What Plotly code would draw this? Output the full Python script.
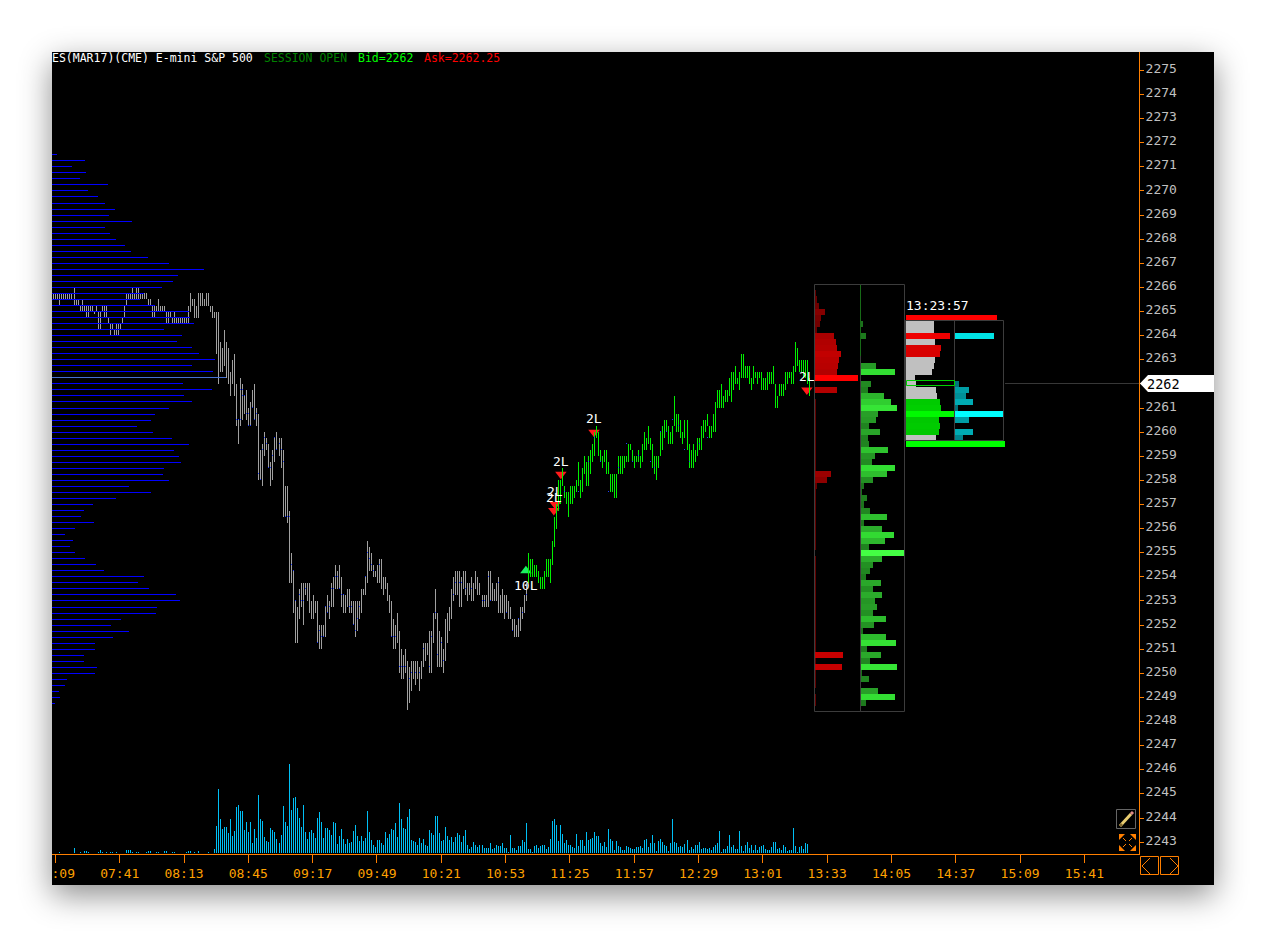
import plotly.graph_objects as go

W, H = 1266, 937

# ---------- data ----------
first_bar_minute = 428.2547
bar_high = [
2265.75,2265.75,2265.75,2265.75,2265.75,2265.75,2265.75,2265.75,2265.75,2265.75,2266,2265.5,2265.5,2265.25,2265.5,2265.25,2265.25,2265.25,2265.25,2265.25,
2265,2265.25,2265,2265,2265.25,2265.25,2265.25,2264.75,2264.5,2264.5,2264.25,2264.5,2264.5,2264.5,2264.75,2265.25,2265.75,2265.75,2265.75,2266,
2265.75,2266,2266,2265.75,2265.75,2265.75,2265.75,2265.5,2265.5,2265.25,2265.25,2265.25,2265.5,2265.25,2265.25,2265.25,2265,2265,2265,2264.75,
2265,2264.75,2264.75,2264.75,2264.75,2264.75,2264.75,2265.25,2265.75,2265.5,2265.5,2265.25,2265.75,2265.75,2265.75,2265.5,2265.75,2265.75,2265.25,2265.25,2265,
2265,2265,2263.75,2263.5,2264.25,2263.75,2263.5,2262.5,2263,2263.25,2262,2260.5,2262.25,2262,2261.5,2261.75,2261,2261.25,2261.75,2262,
2261,2260.75,2259.25,2259.5,2260,2259.75,2259.5,2258.75,2259.25,2259.75,2260,2259.75,2259.75,2259.25,2257.75,2257.75,2256.75,2255,2254.25,2253,
2252.75,2253.5,2253.75,2253.75,2253.75,2253.75,2253.75,
2253,2253.25,2253,2253,2252,2252,2252,2252.75,2253.25,2253,2253.75,2254,2254.5,2254.25,2254.5,2254,2253.25,2253.25,2253.5,2253.5,
2253,2253,2253,2253,2253,2253.5,2253.5,2254,2255.5,2255.25,2255,2254.5,2254.25,2254.5,2254.75,2254.75,2254,2254,2253.75,2253.25,
2253,2252.25,2252,2252.5,2251.75,2251,2250.75,2251,2250.5,2250.25,2250.5,2250.5,2250.5,2250.5,2250.25,2250.5,2251.25,2251.25,2251.25,2251.75,
2251.75,2252.5,2253.5,2252.5,2251.75,2251.5,2251,2252.25,2252.5,2252.75,2253.5,2254,2254.25,2254.25,2254.25,2254,2254.25,2254.25,2253.75,2253.75,
2254,2253.75,2254.25,2254,2253.75,2253.25,2253.25,2253.25,2254.25,2254.25,2253.75,2253.5,2253.75,2254,2253.25,2253.5,2253.25,2253.25,2253,2252.75,
2252.25,2252.25,2252,2252.25,2252.75,2252.75,2253.25,2253.75,2255,
2254.75,2254.75,2254.5,2254.5,2254.25,2254,2254,2254.25,2254.75,2254.75,2254.75,2255.5,2256.5,2257,
2258,2258,2258.5,2257.75,2257.5,2257.5,2257.75,2257.75,2257.75,2258,2258.75,2258,2258.5,2259,2258.75,2259,2259.25,2259.5,2260,2260.25,
2260,2259.25,2259,2259.25,2259.25,2258.75,2258.25,2258.25,2258.25,2258.25,2259,2259,2259,2259,2259,2259.5,2259.5,2259.25,2259,2259,
2259.25,2259,2259.5,2260,2259.75,2260.25,2259.75,2259.5,2259,2259,2259,2260,2260.25,2260.5,2260.5,2260.25,2260,2260.25,2261.5,2260.75,
2260.75,2260.5,2260,2260.5,2260.5,
2259.5,2259.25,2259.5,2259.25,2259.75,2259.75,2260.25,2260.5,2260.5,2260.75,2260.25,2260.25,2260.75,2261.25,2261.75,2261.75,2262,2261.5,2261.75,2261.75,
2262.25,2262.5,2262.5,2262.75,2262.25,2262.5,2263.25,2263.25,2262.75,2262.75,2262.75,2262.25,2262.75,2262.5,2262.5,2262.5,2262.5,2262.25,2262.25,2262.5,
2262.5,2262.5,2262.75,2262,2261.5,2262,2262,2262,2262.5,2262.5,2262.5,2262.5,2262.75,2263.75,2263.5,2263,2263,2263,2263,2263,2262.25,
]
bar_low = [
2265.5,2265.5,2265.5,2265.25,2265.5,2265.5,2265.5,2265.5,2265.5,2265.5,2265.25,2265.25,2265.25,2265,2265,2265,2264.75,2264.75,2265,2265,
2264.9,2265,2264.25,2264.25,2265,2264.75,2264.75,2264.5,2264,2264.25,2264,2264,2264,2264.25,2264.5,2264.75,2265.25,2265.5,2265.5,2265.5,
2265.5,2265.5,2265.5,2265.5,2265.5,2265.5,2265.5,2265.25,2265.25,2264.75,2264.75,2265,2265,2265,2265,2265,2264.5,2264.5,2264.75,2264.5,
2264.5,2264.5,2264.5,2264.5,2264.5,2264.5,2264.5,2264.5,2265,2265.25,2264.75,2264.75,2264.75,2265.25,2265.25,2265.25,2265.25,2265.25,2265,2264.75,2264.75,
2263.25,2262,2262.5,2262.5,2262.75,2262.25,2262,2261.5,2262,2261.5,2260.25,2259.5,2260.25,2260.5,2260.75,2260.5,2260.25,2260.25,2261,2260.5,
2260.25,2258,2258,2257.75,2259,2259.25,2258.5,2257.75,2258,2258.75,2259.25,2259,2258.5,2256.5,2256.5,2256.25,2253.75,2253.75,2252.5,2251.25,
2251.25,2252.25,2252.75,2252,2253.25,2253,2252.5,
2252.25,2252.25,2252.5,2251.25,2251,2251,2251.5,2251.5,2252.5,2252.25,2252.75,2252.75,2253.5,2253.5,2253.5,2252.75,2252.5,2252.5,2252.75,2252.5,
2252.5,2252,2251.5,2251.75,2252.25,2252.5,2253.25,2253.25,2253.75,2254.25,2254.25,2254,2254,2253.75,2253.75,2253.5,2253.25,2253.5,2253,2252.5,
2251.5,2251,2251,2251.25,2250,2249.75,2249.75,2250,2248.5,2248.75,2249.25,2249.75,2249.5,2249.75,2249.25,2249.75,2250.25,2250.5,2250.75,2250,
2250,2251.25,2252.25,2250.25,2250.25,2250.25,2250,2250.5,2251.25,2251.75,2252.25,2253,2253.25,2253.25,2252.75,2252.75,2253.5,2253.25,2253,2253.25,
2253,2253,2253.5,2253.25,2253.25,2252.75,2252.75,2252.75,2252.75,2253,2253,2253,2253,2252.5,2252.5,2252.5,2252.25,2252.5,2252.25,2252.25,
2251.75,2251.5,2251.5,2251.5,2251.75,2252.25,2252.5,2253,2253.75,
2254,2254,2254,2254,2253.75,2253.5,2253.5,2253.5,2254,2254,2253.75,2254.5,2255.25,2256,
2256.75,2257,2257.75,2257.25,2257,2256.5,2257,2257,2257.25,2257.5,2257.75,2257.25,2257.5,2258.25,2257.75,2257.75,2258.25,2258.75,2259,2259.75,
2259,2258.75,2258.5,2258.75,2258.25,2258.25,2257.5,2257.5,2257.25,2257.25,2258.25,2258.25,2258.25,2258.5,2258.75,2258.75,2259.25,2258.75,2258.5,2258.75,
2258.75,2258.5,2258.75,2259.25,2259.25,2259.5,2259.25,2258.5,2258.25,2258,2258.5,2259,2259.25,2259.75,2260,2259.5,2259.5,2259.5,2260.25,2260,
2260,2259.75,2259.5,2259.75,2259.25,
2258.5,2258.5,2258.5,2258.75,2259,2259.25,2259.25,2259.75,2260,2260.25,2259.75,2259.75,2260,2260,2261,2261,2261,2261,2261.25,2261.25,
2261.5,2261.25,2261.75,2262,2262,2261.75,2262.25,2262.25,2262.25,2262.25,2262,2261.75,2262,2262.25,2262,2262.25,2261.75,2261.75,2261.75,2261.75,
2262,2262,2262,2261,2261,2261.5,2261.5,2261.5,2261.75,2262,2262.25,2262,2262,2262.5,2262.75,2262.5,2262.5,2262.25,2262.25,2262,2261.5,
]
first_green_bar = 236

# closes that can be made out on the bars (bar number, price)
close_bar = [91,92,93,93,94,94,95,96,97,97,98,99,100,101,102,103,104,105,106,107,108,109,110,111,112,113,114,115,116,117,118,119,120,122,123,124,125,
131,132,133,134,135,136,137,138,139,140,141,142,143,144,147,148,149,150,151,152,155,156,157,158,159,162,168,169,170,172,173,174,175,177,178,180,182,184,187,188,190,191,193,194,199,200,202,203,205,208,213,214,216,217,221,225,228,231,233,235,
250,254,257,261,266,269,272,276,279,281,285,288,291,297,299,302,305,308,311,314,316,321,325]
close_price = [2260.5,2260.5,2260.5,2261.75,2261.75,2261.5,2261.5,2260.75,2260.75,2260.25,2260.25,2261,2260.5,2260.75,2258.25,2258,2259.25,2259.75,2259.5,2258.5,2258.5,2259,2259.75,2259.25,2259.5,2259.25,2258.75,2256.5,2256.5,2256.5,2254.5,2254.25,2253,2253.25,2253,2253,2253.5,
2251.25,2251.75,2251.5,2251.5,2252.75,2252.5,2252.75,2253.5,2253.5,2254,2254,2253.5,2253.25,2253.25,2252.75,2252.75,2252,2251.75,2252.25,2252.75,2254,2255,2254.75,2254.5,2254.25,2254.5,2251.5,2251.5,2251.5,2250.25,2250.25,2250.25,2250.25,2249.75,2250,2250,2250,2251,2250.25,2251.5,2252.5,2250.75,2251.25,2250.5,2253.25,2253.75,2253.75,2253.75,2253.5,2253.5,2253,2253,2254,2253,2253.75,2252.5,2251.75,2252.25,2252.5,2253.25,
2257,2257.5,2257.25,2257.5,2258.75,2259.75,2258.75,2257.5,2257.25,2258.5,2259.5,2258.75,2259,2258.75,2258.5,2260,2260,2260.5,2260.25,2259.25,2258.75,2259.5,2259.75]

volume = [
0,0,0,1,0,0,0,0,0,0,5,0,0,1,0,2,2,1,0,0,0,0,1,3,1,0,1,0,1,1,0,1,0,0,0,0,3,3,3,1,0,1,1,0,0,0,1,2,2,0,0,1,1,0,0,2,2,0,0,1,1,0,0,0,0,0,1,2,2,0,1,0,2,0,0,0,0,1,0,0,4,
27,64,34,24,26,26,20,34,17,22,46,48,42,42,23,31,21,31,10,24,15,58,34,32,16,12,11,25,23,21,14,
10,18,47,31,27,89,43,55,56,45,35,26,48,21,14,21,23,20,15,35,41,31,15,25,25,23,18,31,30,9,17,24,14,9,14,10,11,22,28,17,12,17,12,15,42,21,13,8,6,13,13,10,8,21,15,19,24,23,30,16,50,34,25,24,36,44,13,12,11,8,15,10,14,8,7,23,20,18,37,37,20,12,13,26,17,13,
16,11,16,20,18,11,17,23,8,4,6,11,8,6,8,
8,5,5,5,10,4,5,8,7,7,10,5,5,1,18,5,5,3,7,7,13,11,30,4,4,1,7,8,5,7,8,8,4,6,14,32,34,28,12,28,19,10,13,8,8,6,5,19,7,13,13,7,21,13,14,15,21,17,17,10,7,11,6,24,14,12,3,12,7,6,3,3,7,6,5,4,4,6,6,7,5,13,14,6,10,18,10,2,12,14,11,8,7,2,10,34,11,10,6,7,6,9,
13,3,6,4,8,8,11,4,5,5,4,5,3,6,8,10,22,1,4,4,7,18,6,8,4,4,22,7,2,8,11,5,8,3,8,3,6,7,8,4,3,3,6,11,11,4,5,3,8,6,2,3,3,25,7,1,6,7,4,10,9,
]

# left session profile, one row per 0.25 point, from 2271.5 downwards
profile_top_price = 2271.5
profile_sizes = [
5,33,20,34,28,56,36,46,53,63,57,80,53,58,64,73,79,96,117,152,126,121,110,92,88,103,137,138,142,112,130,125,
140,147,163,140,161,174,131,160,132,140,
117,103,99,85,101,120,137,122,127,129,112,111,117,77,99,64,41,32,29,42,23,13,21,18,23,33,44,52,92,86,97,124,128,
105,104,69,59,77,61,43,43,32,32,45,43,15,13,7,8,3,
]
profile_poc_index = 37

# red column
red_price = [2265.5,2265.25,2265,2264.75,2264.5,2264.25,2264,2263.75,2263.5,2263.25,2263,2262.75,2262.5,2262.25,2261.75,2258.25,2258,2257.75,2250.75,2250.25]
red_size = [2,4,10,6,5,2,19,21,22,26,24,23,22,43,22,16,12,2,28,27]
red_thin_price = [2265.75,2261.25,2261,2260.75,2260.5,2260.25,2260,2259.75,2259.5,2259.25,2259,2258.75,2258.5,2257.5,2257.25,2257,2256.75,2256.5,2256.25,2256,2255.75,2255.5,2255.25,2254.75,2254.5,2254.25,2254,2253.75,2253.5,2253.25,2253,2252.75,2252.5,2252.25,2252,2251.75,2251.5,2251.25,2251,2250.5,2250,2249.75,2249.5,2249,2248.75]

# green column
green_price = [2264.5,2264,2262.75,2262.5,2262,2261.75,2261.5,2261.25,2261,2260.75,2260.5,2260.25,2260,2259.75,2259.5,2259.25,2259,2258.75,2258.5,2258.25,2258,2257.75,2257.5,2257.25,2257,2256.75,2256.5,2256.25,2256,2255.75,2255.5,2255.25,2255,2254.75,2254.5,2254.25,2254,2253.75,2253.5,2253.25,2253,2252.75,2252.5,2252.25,2252,2251.75,2251.5,2251.25,2251,2250.75,2250.5,2250.25,2250,2249.75,2249.25,2249,2248.75]
green_size = [2,5,15,34,10,7,23,30,36,17,15,8,19,7,8,27,14,11,34,26,12,3,1,6,3,9,26,3,21,33,24,8,43,21,12,9,5,20,12,21,14,16,12,25,13,2,25,35,6,20,9,36,1,8,17,34,5]

# depth ladder
ladder_gray_price = [2264.5,2264.25,2263.75,2263,2262.75,2262.5,2262.25,2262,2261.75,2261.5,2259.75]
ladder_gray_size = [28,28,29,29,28,26,9,10,30,31,30]
ladder_ask_price = [2264.75,2264,2263.5,2263.25]
ladder_ask_size = [91,44,35,34]
ladder_bid_price = [2261.25,2261,2260.75,2260.5,2260.25,2260,2259.5]
ladder_bid_size = [34,35,48,33,34,33,99]
ladder_delta_price = [2264,2262,2261.75,2261.5,2261.25,2261,2260.75,2260.5,2260,2259.75]
ladder_delta_size = [39,4,14,11,18,3,49,14,18,8]

# entry signals
signal_down_minute = [677.0, 677.7, 680.5, 697.0, 802.9]
signal_down_price = [2256.75, 2257.0, 2258.25, 2260.0, 2261.75]
signal_down_label_price = [2257.3, 2257.55, 2258.8, 2260.55, 2262.3]
signal_down_text = ["2L", "2L", "2L", "2L", "2L"]
signal_up_minute = [663.1]
signal_up_price = [2254.25]
signal_up_label_price = [2253.65]
signal_up_text = ["10L"]

time_minutes = [429 + 32 * k for k in range(17)]
time_labels = ["\u00a0\u00a0:09","07:41","08:13","08:45","09:17","09:49","10:21","10:53","11:25","11:57","12:29","13:01","13:33","14:05","14:37","15:09","15:41"]
price_ticks = list(range(2243, 2276))
last_price = 2262
clock_text = "13:23:57"

# ---------- styling / helpers ----------
MONO = "DejaVu Sans Mono"
ORANGE = "#ff7f00"
PANEL_L, PANEL_T, PANEL_R, PANEL_B = 52, 52, 1214, 885
AX_R, AX_B = 1139, 854

def py(y):
    return (H - y) / H
def px(x):
    return x / W

def pmap(y):
    return 2262 - (y - 383.9) / 24.1188

shapes = []
def rect(x0, y0, x1, y1, line=None, fill=None, width=1, layer="below"):
    shapes.append(dict(type="rect", xref="paper", yref="paper", x0=px(x0), x1=px(x1), y0=py(y1), y1=py(y0),
                       line=dict(color=line or "rgba(0,0,0,0)", width=width if line else 0),
                       fillcolor=fill or "rgba(0,0,0,0)", layer=layer))
def path(points, line=None, fill=None, width=1, layer="above", close=False):
    d = "M" + " L".join(f"{px(x):.5f},{py(y):.5f}" for x, y in points) + (" Z" if close else "")
    shapes.append(dict(type="path", xref="paper", yref="paper", path=d,
                       line=dict(color=line or "rgba(0,0,0,0)", width=width if line else 0),
                       fillcolor=fill or "rgba(0,0,0,0)", layer=layer))

# black panel
rect(PANEL_L, PANEL_T, PANEL_R, PANEL_B, fill="#000000")

# profile panels
rect(814.5, 284.5, 860.5, 711.5, line="#3c3c3c")
rect(860.5, 284.5, 904.5, 711.5, line="#3c3c3c")
rect(905.5, 320.5, 954.5, 440.5, line="#3c3c3c", layer="above")
rect(954.5, 320.5, 1003.5, 440.5, line="#3c3c3c", layer="above")
rect(906.5, 380.5, 954.5, 385.5, line="#00d000", layer="above")
path([(860.5, 285), (860.5, 356)], line="#176a17")
path([(1005, 383.5), (AX_R, 383.5)], line="#383838", layer="below")

# last-price flag
path([(1140, 383.5), (1148, 375), (1214, 375), (1214, 392), (1148, 392)], fill="#ffffff", close=True)
# prev / next buttons
rect(1140.5, 856.5, 1158.5, 874.5, line=ORANGE, layer="above")
rect(1160.5, 856.5, 1178.5, 874.5, line=ORANGE, layer="above")
path([(1150, 858), (1142, 866), (1150, 874)], line=ORANGE)
path([(1170, 858), (1178, 866), (1170, 874)], line=ORANGE)
# pencil tool
rect(1116.5, 809.5, 1135.5, 828.5, line="#666666", layer="above")
path([(1120, 826), (1131, 814)], line="#e8cc70", width=3)
path([(1120, 826), (1122, 824)], line="#806830", width=3)
path([(1131, 814), (1133, 812)], line="#e08a8a", width=3)
# expand tool
for cx, cy, sx, sy in [(1119, 834, 1, 1), (1136, 834, -1, 1), (1119, 851, 1, -1), (1136, 851, -1, -1)]:
    path([(cx, cy), (cx + 6 * sx, cy), (cx, cy + 6 * sy)], fill=ORANGE, close=True)
    path([(cx + 4 * sx, cy + 4 * sy), (cx + 7 * sx, cy + 7 * sy)], line=ORANGE)

fig = go.Figure()

def minute(i):
    return first_bar_minute + i

def segs(xs, y0s, y1s):
    X, Y = [], []
    for x, a, b in zip(xs, y0s, y1s):
        X += [x, x, None]
        Y += [a, b, None]
    return X, Y

def hsegs(ys, x0s, x1s):
    X, Y = [], []
    for y, a, b in zip(ys, x0s, x1s):
        X += [a, b, None]
        Y += [y, y, None]
    return X, Y

def add_line(X, Y, color, xaxis="x", yaxis="y", width=1):
    fig.add_trace(go.Scatter(x=X, y=Y, mode="lines", line=dict(color=color, width=width), xaxis=xaxis, yaxis=yaxis,
                             hoverinfo="skip", showlegend=False, connectgaps=False))

# left profile
row_price = [profile_top_price - 0.25 * k for k in range(len(profile_sizes))]
rows = [k for k in range(len(profile_sizes)) if k != profile_poc_index]
X, Y = hsegs([row_price[k] for k in rows], [PANEL_L] * len(rows), [PANEL_L + profile_sizes[k] for k in rows])
add_line(X, Y, "#0000ff", xaxis="x2")
X, Y = hsegs([row_price[profile_poc_index]], [PANEL_L], [PANEL_L + profile_sizes[profile_poc_index]])
add_line(X, Y, "#4470d0", xaxis="x2")

# signal triangles under the bars
fig.add_trace(go.Scatter(x=signal_down_minute, y=signal_down_price, mode="markers",
                         marker=dict(symbol="triangle-down", size=10, color="#ff1a1a", line_width=0),
                         hoverinfo="skip", showlegend=False))
fig.add_trace(go.Scatter(x=signal_up_minute, y=signal_up_price, mode="markers",
                         marker=dict(symbol="triangle-up", size=10, color="#1cf060", line_width=0),
                         hoverinfo="skip", showlegend=False))

# price bars
n = min(len(bar_high), len(bar_low))
xs = [minute(i) for i in range(n)]
X, Y = segs(xs[:first_green_bar], bar_low[:first_green_bar], bar_high[:first_green_bar])
add_line(X, Y, "#a0a0a0")
X, Y = segs(xs[first_green_bar:], bar_low[first_green_bar:], bar_high[first_green_bar:])
add_line(X, Y, "#00f000")
# close ticks
X, Y = segs([minute(i) for i in close_bar], close_price, [c + 0.04 for c in close_price])
add_line(X, Y, "#2040ff")

# volume
X, Y = segs([minute(i) for i in range(len(volume)) if volume[i] > 0], [0] * sum(v > 0 for v in volume), [v for v in volume if v > 0])
add_line(X, Y, "#00bff5", yaxis="y2")

def hbars(prices, sizes, base, colorscale, cmin, cmax):
    fig.add_trace(go.Bar(y=prices, x=sizes, base=base, orientation="h", width=0.25, xaxis="x2", yaxis="y",
                         marker=dict(color=sizes, colorscale=colorscale, cmin=cmin, cmax=cmax, line_width=0),
                         hoverinfo="skip", showlegend=False))

RED = [[0, "#640000"], [0.5, "#b40000"], [1, "#ff0000"]]
GRN = [[0, "#1a6e1a"], [0.45, "#2aa82a"], [0.8, "#33e033"], [1, "#44ff44"]]
hbars(red_price, red_size, 815, RED, 1, 43)
hbars(red_thin_price, [1] * len(red_thin_price), 815, RED, 1, 43)
hbars(green_price, green_size, 861, GRN, 1, 43)
hbars(ladder_gray_price, ladder_gray_size, 906, [[0, "#c0c0c0"], [1, "#c0c0c0"]], 0, 99)
hbars(ladder_ask_price, ladder_ask_size, 905.5, [[0, "#d80000"], [0.3, "#ff0000"], [1, "#ff0000"]], 34, 91)
hbars(ladder_bid_price, ladder_bid_size, 905.5, [[0, "#00c800"], [0.25, "#00ff00"], [1, "#00ff00"]], 33, 99)
hbars(ladder_delta_price, ladder_delta_size, 955, [[0, "#007078"], [0.3, "#00a8b0"], [1, "#00ffff"]], 3, 49)

ann = []
def label(xpix, ypix, text, color, anchor="left", size=12):
    ann.append(dict(xref="paper", yref="paper", x=px(xpix), y=py(ypix), text=text, showarrow=False,
                    xanchor=anchor, yanchor="middle", font=dict(family=MONO, size=size, color=color),
                    borderpad=0, borderwidth=0))

label(51.5, 58, "ES(MAR17)(CME) E-mini S&P 500", "#ffffff", size=11.5)
label(264, 58, "SESSION OPEN", "#008000", size=11.5)
label(358, 58, "Bid=2262", "#00ff00", size=11.5)
label(424, 58, "Ask=2262.25", "#ff0000", size=11.5)
label(906, 305, clock_text, "#ffffff", size=13)
label(1147, 384, str(last_price), "#000000", size=13.5)
for m, p, t in zip(signal_down_minute + signal_up_minute,
                   signal_down_label_price + signal_up_label_price,
                   signal_down_text + signal_up_text):
    ann.append(dict(x=m, y=p, xref="x", yref="y", text=t, showarrow=False, xanchor="center", yanchor="middle",
                    font=dict(family=MONO, size=13, color="#ffffff")))

fig.update_layout(
    width=W, height=H, autosize=False, margin=dict(l=0, r=0, t=0, b=0, pad=0, autoexpand=False),
    paper_bgcolor="rgba(0,0,0,0)", plot_bgcolor="rgba(0,0,0,0)", barmode="overlay", bargap=0,
    showlegend=False, hovermode=False, shapes=shapes, annotations=ann,
    font=dict(family=MONO, size=13),
    xaxis=dict(domain=[px(PANEL_L), px(AX_R)], range=[427.308, 968.15], anchor="y", side="bottom", automargin=False,
               tickmode="array", tickvals=time_minutes, ticktext=time_labels, ticks="outside", ticklen=8, tickwidth=1,
               tickcolor=ORANGE, showline=True, linecolor=ORANGE, linewidth=1, showgrid=False, zeroline=False,
               ticklabelstandoff=-1,
               tickangle=0, tickfont=dict(family=MONO, size=13, color="#ffa000")),
    xaxis2=dict(domain=[px(PANEL_L), px(AX_R)], range=[PANEL_L, AX_R], overlaying="x", anchor="y", visible=False, automargin=False),
    yaxis=dict(domain=[py(AX_B), py(PANEL_T)], range=[pmap(AX_B), pmap(PANEL_T)], anchor="x", side="right", automargin=False,
               tickmode="array", tickvals=price_ticks, ticktext=["" if v == last_price else str(v) for v in price_ticks],
               ticks="outside", ticklen=4, tickwidth=1, tickcolor=ORANGE, showline=True, linecolor=ORANGE, linewidth=1,
               ticklabelstandoff=-1, ticklabelshift=-2,
               showgrid=False, zeroline=False, tickfont=dict(family=MONO, size=13, color="#c0c0c0")),
    yaxis2=dict(domain=[py(AX_B), py(PANEL_T)], range=[-1, AX_B - PANEL_T - 1], overlaying="y", anchor="x", visible=False, automargin=False),
)

post = """
document.body.style.margin='0';document.body.style.overflow='hidden';document.body.style.background='#fff';
var sh=document.createElement('div');
sh.style.cssText='position:absolute;left:52px;top:52px;width:1162px;height:833px;box-shadow:0 10px 30px rgba(0,0,0,.45);z-index:-1;';
document.body.appendChild(sh);
document.querySelectorAll('.js-line').forEach(function(e){e.style.shapeRendering='crispEdges';});
"""
fig.write_html("out.html", config={"displayModeBar": False, "staticPlot": True}, post_script=post)
